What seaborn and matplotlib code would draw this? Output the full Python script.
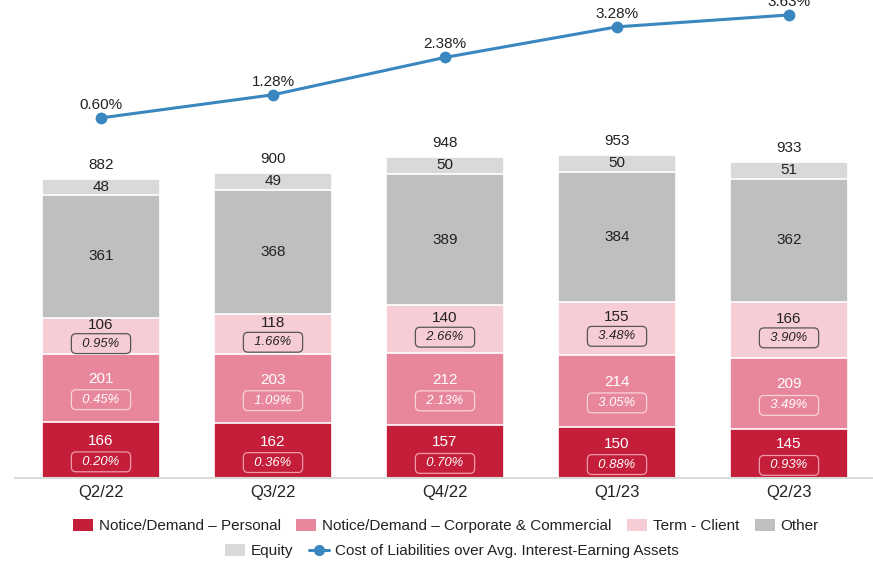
import numpy as np
import matplotlib
matplotlib.use("Agg")
import matplotlib.pyplot as plt
import seaborn as sns
from matplotlib.patches import Patch
from matplotlib.lines import Line2D

quarters = ["Q2/22", "Q3/22", "Q4/22", "Q1/23", "Q2/23"]
personal = [166, 162, 157, 150, 145]
corporate = [201, 203, 212, 214, 209]
term = [106, 118, 140, 155, 166]
other = [361, 368, 389, 384, 362]
equity = [48, 49, 50, 50, 51]
totals = [882, 900, 948, 953, 933]
personal_pct = [0.20, 0.36, 0.70, 0.88, 0.93]
corporate_pct = [0.45, 1.09, 2.13, 3.05, 3.49]
term_pct = [0.95, 1.66, 2.66, 3.48, 3.90]
cost_liab = [0.60, 1.28, 2.38, 3.28, 3.63]

colours = ["#C41E3A", "#E8879C", "#F7CDD5", "#BFBFBF", "#D9D9D9"]
line_colour = "#3A87C0"
names = ["Notice/Demand \u2013 Personal", "Notice/Demand \u2013 Corporate & Commercial",
         "Term - Client", "Other", "Equity"]

sns.set_theme(style="white")
plt.rcParams["font.family"] = ["Liberation Sans", "DejaVu Sans"]

fig = plt.figure(figsize=(8.73, 5.63), dpi=100)
ax = fig.add_axes([15 / 873, 85 / 563, 860 / 873, 478 / 563])

layers = [personal, corporate, term, other, equity]
cum = np.cumsum(np.array(layers), axis=0)

# draw cumulative bars from the top layer down so each segment stays visible
for i in range(len(layers) - 1, -1, -1):
    sns.barplot(x=quarters, y=cum[i], color=colours[i], saturation=1, width=0.69,
                edgecolor="white", linewidth=1.2, ax=ax)

ax.set_xlim(-0.5, 4.5)
ax.set_ylim(0, 1410)
ax.set_yticks([])
ax.set_ylabel("")
ax.set_xlabel("")
for s in ["top", "left", "right"]:
    ax.spines[s].set_visible(False)
ax.spines["bottom"].set_color("#D9D9D9")
ax.spines["bottom"].set_linewidth(1.5)
ax.tick_params(axis="x", labelsize=12, colors="#222222", pad=5, length=0)

num_fs = 11
pct_fs = 9.4


def pct_label(j, c, dy, txt, col, edge):
    ax.annotate(f"  {txt}  ", (j, c), xytext=(0, dy), textcoords="offset pixels",
                ha="center", va="center", fontsize=pct_fs, style="italic", color=col,
                bbox=dict(boxstyle="round,pad=0.3,rounding_size=0.35", fc="none", ec=edge, lw=0.9))


bottoms = np.vstack([np.zeros(5), cum[:-1]])
for j in range(5):
    # personal
    c = bottoms[0][j] + personal[j] / 2
    ax.annotate(str(personal[j]), (j, c), xytext=(0, 9), textcoords="offset pixels",
                ha="center", va="center", fontsize=num_fs, color="white")
    pct_label(j, c, -12, f"{personal_pct[j]:.2f}%", "white", "#EE9AAA")
    # corporate
    c = bottoms[1][j] + corporate[j] / 2
    ax.annotate(str(corporate[j]), (j, c), xytext=(0, 9), textcoords="offset pixels",
                ha="center", va="center", fontsize=num_fs, color="white")
    pct_label(j, c, -12, f"{corporate_pct[j]:.2f}%", "white", "#F8D3DA")
    # term
    c = bottoms[2][j] + term[j] / 2
    ax.annotate(str(term[j]), (j, c), xytext=(0, 11), textcoords="offset pixels",
                ha="center", va="center", fontsize=num_fs, color="#222222")
    pct_label(j, c, -8, f"{term_pct[j]:.2f}%", "#222222", "#555555")
    # other
    c = bottoms[3][j] + other[j] / 2
    ax.annotate(str(other[j]), (j, c), ha="center", va="center", fontsize=num_fs, color="#222222")
    # equity
    c = bottoms[4][j] + equity[j] / 2
    ax.annotate(str(equity[j]), (j, c), ha="center", va="center", fontsize=num_fs, color="#222222")
    # total
    ax.annotate(str(totals[j]), (j, totals[j]), xytext=(0, 14), textcoords="offset pixels",
                ha="center", va="center", fontsize=num_fs, color="#222222")

ax2 = ax.twinx()
sns.lineplot(x=np.arange(5), y=cost_liab, color=line_colour, linewidth=2.2, marker="o",
             markersize=8.5, markeredgewidth=0, ax=ax2)
ax2.set_ylim(-10.0, 4.07)
ax2.set_yticks([])
ax2.set_ylabel("")
for s in ax2.spines.values():
    s.set_visible(False)
for j, v in enumerate(cost_liab):
    ax2.annotate(f"{v:.2f}%", (j, v), xytext=(0, 13), textcoords="offset pixels",
                 ha="center", va="center", fontsize=num_fs, color="#222222", annotation_clip=False)

handles = [Patch(facecolor=colours[i], edgecolor="none", label=names[i]) for i in range(5)]
line_handle = Line2D([0], [0], color=line_colour, lw=2.2, marker="o", markersize=7,
                     label="Cost of Liabilities over Avg. Interest-Earning Assets")
leg_kw = dict(frameon=False, fontsize=11, handlelength=1.3, handleheight=0.9,
              handletextpad=0.4, columnspacing=1.0, borderaxespad=0, labelcolor="#222222")
leg1 = fig.legend(handles=handles[:4], ncol=4, loc="center", bbox_to_anchor=(446 / 873, 1 - 526 / 563), **leg_kw)
leg2 = fig.legend(handles=[handles[4], line_handle], ncol=2, loc="center",
                  bbox_to_anchor=(452 / 873, 1 - 551 / 563), **leg_kw)

fig.savefig("out.png", dpi=100)
